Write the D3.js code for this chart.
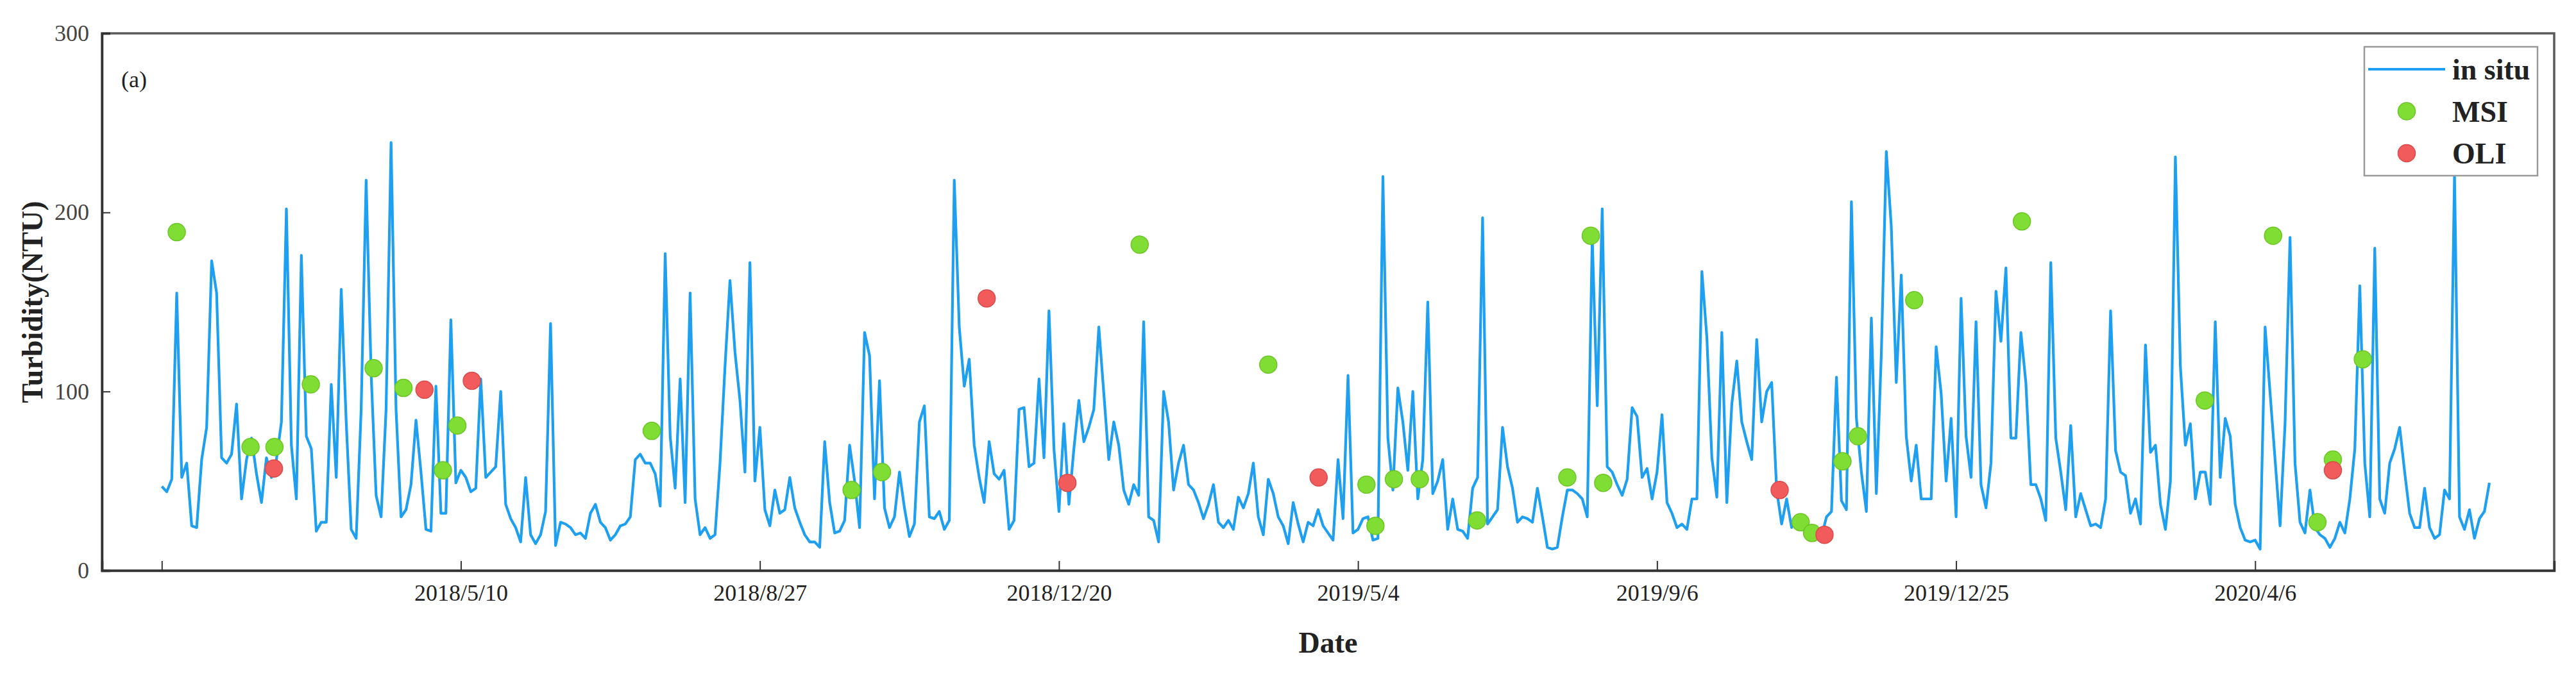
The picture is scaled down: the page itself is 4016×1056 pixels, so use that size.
<!DOCTYPE html>
<html>
<head>
<meta charset="utf-8">
<script src="https://cdn.jsdelivr.net/npm/d3@7"></script>
<style>
  body { margin: 0; background: #fff; }
  svg { display: block; font-family: "Liberation Serif", "Times New Roman", serif; }
</style>
</head>
<body>
<svg width="4016" height="1056"></svg>
<script>
// x positions are sample numbers, 60 samples between two date ticks
const tickIdx    = [0, 60, 120, 180, 240, 300, 360, 420];
const tickLabels = ["", "2018/5/10", "2018/8/27", "2018/12/20", "2019/5/4", "2019/9/6", "2019/12/25", "2020/4/6"];
const yTicks     = [0, 100, 200, 300];

// in situ turbidity (NTU), one value per sample
const insitu = [
  47, 44, 51, 155, 52, 60, 25, 24, 62, 80, 173, 155, 63, 60, 65, 93, 40, 62, 74, 54,
  38, 63, 52, 62, 83, 202, 70, 40, 176, 75, 68, 22, 27, 27, 104, 52, 157, 83, 23, 18,
  90, 218, 110, 42, 30, 90, 239, 90, 30, 34, 48, 84, 55, 23, 22, 103, 32, 32, 140, 49,
  56, 52, 44, 46, 107, 52, 55, 58, 100, 37, 29, 24, 16, 52, 20, 15, 20, 33, 138, 14,
  27, 26, 24, 20, 21, 18, 32, 37, 27, 24, 17, 20, 25, 26, 30, 62, 65, 60, 60, 54,
  36, 177, 75, 46, 107, 38, 155, 40, 20, 24, 18, 20, 60, 114, 162, 122, 95, 55, 172, 50,
  80, 34, 25, 45, 32, 34, 52, 35, 27, 20, 16, 16, 13, 72, 38, 21, 22, 28, 70, 50,
  24, 133, 120, 40, 106, 35, 24, 30, 55, 35, 19, 26, 83, 92, 30, 29, 33, 23, 28, 218,
  136, 103, 118, 70, 52, 38, 72, 54, 51, 56, 23, 28, 90, 91, 58, 60, 107, 63, 145, 68,
  33, 82, 37, 68, 95, 72, 80, 90, 136, 99, 62, 83, 70, 45, 37, 48, 42, 139, 30, 28,
  16, 100, 83, 45, 60, 70, 48, 45, 38, 29, 37, 48, 27, 24, 28, 23, 41, 35, 43, 60,
  30, 20, 51, 43, 30, 25, 15, 38, 26, 16, 27, 25, 34, 25, 21, 17, 62, 29, 109, 21,
  23, 29, 30, 17, 18, 220, 74, 45, 102, 83, 56, 100, 40, 62, 150, 43, 50, 62, 23, 40,
  23, 22, 18, 46, 52, 197, 26, 30, 34, 80, 58, 46, 27, 30, 29, 27, 46, 30, 13, 12,
  13, 30, 45, 45, 43, 40, 30, 186, 92, 202, 58, 55, 48, 42, 51, 91, 86, 52, 57, 40,
  55, 87, 38, 32, 24, 26, 23, 40, 40, 167, 130, 63, 41, 133, 38, 93, 117, 83, 72, 62,
  129, 83, 100, 105, 45, 26, 40, 24, 30, 26, 21, 18, 20, 19, 30, 33, 108, 39, 34, 206,
  85, 55, 33, 141, 43, 121, 234, 192, 105, 165, 75, 50, 70, 40, 40, 40, 125, 99, 50, 85,
  30, 152, 75, 52, 139, 48, 35, 60, 156, 128, 169, 74, 74, 133, 105, 48, 48, 40, 28, 172,
  74, 55, 34, 81, 30, 43, 34, 25, 26, 24, 40, 145, 67, 55, 53, 32, 40, 26, 126, 66,
  70, 37, 23, 50, 231, 114, 70, 82, 40, 55, 55, 37, 139, 52, 85, 75, 37, 24, 17, 16,
  17, 12, 136, 99, 62, 25, 82, 186, 60, 27, 21, 45, 24, 20, 18, 13, 18, 27, 21, 40,
  68, 159, 60, 30, 180, 40, 32, 60, 68, 80, 55, 32, 24, 24, 46, 24, 18, 20, 45, 40,
  222, 30, 23, 34, 18, 29, 33, 49
];

// MSI retrievals
const msiIdx = [3, 17.8, 22.6, 29.9, 42.5, 48.5, 56.4, 59.3, 98.3, 138.4, 144.5, 196.2, 222,
                241.7, 243.5, 247.2, 252.4, 263.9, 282, 286.7, 289.2, 328.8, 331.1, 337.2, 340.3,
                351.6, 373.2, 409.9, 423.6, 432.5, 435.6, 441.6];
const msiVal = [189, 69, 69, 104, 113, 102, 56, 81, 78, 45, 55, 182, 115,
                48, 25, 51, 51, 28, 52, 187, 49, 27, 21, 61, 75,
                151, 195, 95, 187, 27, 62, 118];

// OLI retrievals
const oliIdx = [22.5, 52.7, 62.2, 165.5, 181.7, 232.1, 324.6, 333.6, 435.6];
const oliVal = [57, 101, 106, 152, 49, 52, 45, 20, 56];

const svg     = d3.select("svg"),
      margin  = {top: 52, right: 34, bottom: 166, left: 159},
      width   = +svg.attr("width")  - margin.left - margin.right,
      height  = +svg.attr("height") - margin.top  - margin.bottom,
      x       = d3.scaleLinear().domain([-12, 480]).range([0, width]),
      y       = d3.scaleLinear().domain([0, 300]).range([height, 0]),
      g       = svg.append("g")
                   .attr("transform", `translate(${margin.left},${margin.top})`);

svg.insert("rect", ":first-child")
    .attr("width", 4016).attr("height", 1056).attr("fill", "#fff");

// plot frame (top and right)
g.append("rect")
    .attr("width", width)
    .attr("height", height)
    .attr("fill", "none")
    .style("stroke", "#5a5a5a")
    .style("stroke-width", 3.5);

g.append("g")
    .attr("class", "axis axis-x")
    .attr("transform", `translate(0,${height})`)
    .call(d3.axisBottom(x)
            .tickValues(tickIdx)
            .tickFormat((d, i) => tickLabels[i])
            .tickSize(-15)
            .tickPadding(21));

g.append("g")
    .attr("class", "axis axis-y")
    .call(d3.axisLeft(y).tickValues(yTicks).tickSize(-13).tickPadding(20));

g.selectAll(".axis .domain")
    .style("stroke", "#333")
    .style("stroke-width", 3.5);
g.selectAll(".axis .tick line")
    .style("stroke", "#333")
    .style("stroke-width", 2);
g.selectAll(".axis text")
    .style("font-family", "Liberation Serif, serif")
    .style("font-size", "36px")
    .style("fill", "#444");
g.selectAll(".axis-x text").style("fill", "#222");

// in situ line
const line = d3.line()
    .x((d, i) => x(i))
    .y(d => y(d));

g.append("path")
    .datum(insitu)
    .attr("fill", "none")
    .style("stroke", "#1e9ff0")
    .style("stroke-width", 4.2)
    .style("stroke-linejoin", "round")
    .attr("d", line);

g.selectAll(".msi")
  .data(msiIdx)
  .enter().append("circle")
    .attr("class", "msi")
    .attr("cx", d => x(d))
    .attr("cy", (d, i) => y(msiVal[i]))
    .attr("r", 13.5)
    .style("fill", "#80dd33")
    .style("stroke", "#6cc526")
    .style("stroke-width", 1.5);

g.selectAll(".oli")
  .data(oliIdx)
  .enter().append("circle")
    .attr("class", "oli")
    .attr("cx", d => x(d))
    .attr("cy", (d, i) => y(oliVal[i]))
    .attr("r", 13.5)
    .style("fill", "#f25b5b")
    .style("stroke", "#d94a4a")
    .style("stroke-width", 1.5);

// panel tag
g.append("text")
    .attr("x", 30)
    .attr("y", 84)
    .style("font-size", "36px")
    .style("fill", "#222")
    .text("(a)");

// axis titles
svg.append("text")
    .attr("x", margin.left + width / 2)
    .attr("y", 1018)
    .attr("text-anchor", "middle")
    .style("font-size", "46px")
    .style("font-weight", "bold")
    .style("fill", "#222")
    .text("Date");

svg.append("text")
    .attr("transform", `translate(66,${margin.top + height / 2}) rotate(-90)`)
    .attr("text-anchor", "middle")
    .style("font-size", "46px")
    .style("font-weight", "bold")
    .style("fill", "#222")
    .text("Turbidity(NTU)");

// legend
const lg = g.append("g")
    .attr("transform", `translate(${width - 296},21)`);

lg.append("rect")
    .attr("width", 270)
    .attr("height", 201)
    .attr("fill", "#fff")
    .style("stroke", "#999")
    .style("stroke-width", 2.5);

const legendItems = [
  {name: "in situ", type: "line"},
  {name: "MSI", type: "msi"},
  {name: "OLI", type: "oli"}
];

legendItems.forEach((d, i) => {
  const cy = 35 + i * 65.5;
  if (d.type === "line") {
    lg.append("line")
        .attr("x1", 6).attr("x2", 126)
        .attr("y1", cy).attr("y2", cy)
        .style("stroke", "#1e9ff0")
        .style("stroke-width", 4.2);
  } else {
    lg.append("circle")
        .attr("cx", 66).attr("cy", cy)
        .attr("r", 13.5)
        .style("fill", d.type === "msi" ? "#80dd33" : "#f25b5b")
        .style("stroke", d.type === "msi" ? "#6cc526" : "#d94a4a")
        .style("stroke-width", 1.5);
  }
  lg.append("text")
      .attr("x", 137)
      .attr("y", cy + 16)
      .style("font-size", "46px")
      .style("font-weight", "bold")
      .style("fill", "#222")
      .text(d.name);
});
</script>
</body>
</html>
